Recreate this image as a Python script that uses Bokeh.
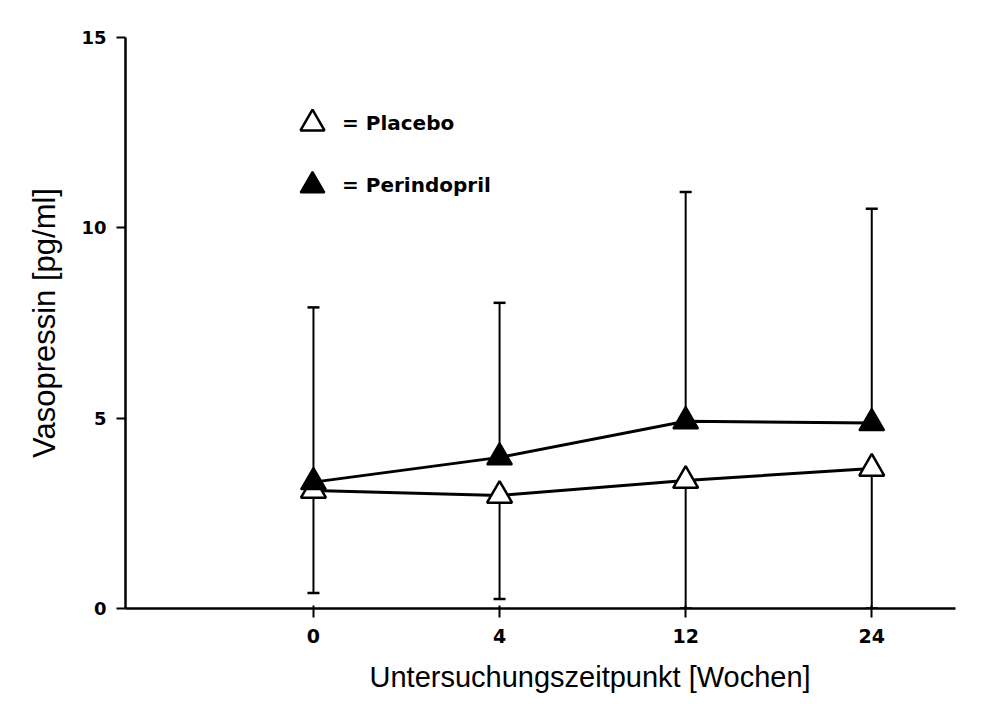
from bokeh.plotting import figure
from bokeh.models import (ColumnDataSource, Whisker, TeeHead, Legend, LegendItem,
                          Title, FixedTicker)
from bokeh.embed import file_html
from bokeh.resources import INLINE

# ---- data ----
weeks = ["0", "4", "12", "24"]
placebo = [3.10, 2.97, 3.36, 3.68]
placebo_lower = [0.41, 0.25, 0.0, 0.0]
perindopril = [3.32, 3.97, 4.92, 4.87]
perindopril_upper = [7.91, 8.03, 10.94, 10.50]
y_ticks = [0, 5, 10, 15]

pos = list(range(len(weeks)))

src = ColumnDataSource(dict(x=pos, placebo=placebo, placebo_lower=placebo_lower,
                            perindopril=perindopril, perindopril_upper=perindopril_upper))

p = figure(width=984, height=716, output_backend="svg", toolbar_location=None,
           x_range=(-1.01, 3.45), y_range=(0, 15),
           min_border_left=125, min_border_right=29, min_border_top=37,
           min_border_bottom=108)
p.xgrid.visible = False
p.ygrid.visible = False
p.outline_line_color = None
p.background_fill_color = "white"
p.border_fill_color = "white"

# error bars
w_up = Whisker(base="x", lower="perindopril", upper="perindopril_upper", source=src,
               dimension="height", line_color="black", line_width=2,
               upper_head=TeeHead(size=12, line_color="black", line_width=2.5),
               lower_head=None, level="underlay")
w_lo = Whisker(base="x", lower="placebo_lower", upper="placebo", source=src,
               dimension="height", line_color="black", line_width=2,
               lower_head=TeeHead(size=12, line_color="black", line_width=2.5),
               upper_head=None, level="underlay")
p.add_layout(w_up)
p.add_layout(w_lo)

# lines
p.line("x", "placebo", source=src, line_color="black", line_width=3)
p.line("x", "perindopril", source=src, line_color="black", line_width=3)

# markers
r_pl = p.scatter("x", "placebo", source=src, marker="triangle", size=25,
                 fill_color="white", line_color="black", line_width=2.5)
r_pe = p.scatter("x", "perindopril", source=src, marker="triangle", size=25,
                 fill_color="black", line_color="black", line_width=2)

legend = Legend(items=[LegendItem(label="= Placebo", renderers=[r_pl]),
                       LegendItem(label="= Perindopril", renderers=[r_pe])],
                location=(157, 393), glyph_width=60, glyph_height=60, spacing=2,
                padding=0, margin=0, border_line_alpha=0, background_fill_alpha=0,
                label_text_font="DejaVu Sans", label_text_font_size="20px",
                label_text_font_style="bold", label_text_color="black",
                label_standoff=0)
p.add_layout(legend)

# y axis
p.yaxis.ticker = FixedTicker(ticks=y_ticks)
p.yaxis.minor_tick_line_color = None
p.yaxis.major_tick_in = 0
p.yaxis.major_tick_out = 9
p.yaxis.major_tick_line_width = 2
p.yaxis.major_tick_line_color = "black"
p.yaxis.axis_line_width = 2.5
p.yaxis.axis_line_color = "black"
p.yaxis.major_label_text_font = "DejaVu Sans"
p.yaxis.major_label_text_font_size = "18px"
p.yaxis.major_label_text_font_style = "bold"
p.yaxis.major_label_text_color = "black"
p.yaxis.major_label_standoff = 10
p.yaxis.axis_label = "Vasopressin [pg/ml]"
p.yaxis.axis_label_text_font = "Liberation Sans"
p.yaxis.axis_label_text_font_size = "31px"
p.yaxis.axis_label_text_font_style = "normal"
p.yaxis.axis_label_text_color = "black"
p.yaxis.axis_label_standoff = 16

# x axis
p.xaxis.ticker = FixedTicker(ticks=pos)
p.xaxis.major_label_overrides = {i: w for i, w in zip(pos, weeks)}
p.xaxis.minor_tick_line_color = None
p.xaxis.major_tick_in = 3
p.xaxis.major_tick_out = 9
p.xaxis.major_tick_line_width = 2
p.xaxis.major_tick_line_color = "black"
p.xaxis.axis_line_width = 2.5
p.xaxis.axis_line_color = "black"
p.xaxis.major_label_text_font = "DejaVu Sans"
p.xaxis.major_label_text_font_size = "19px"
p.xaxis.major_label_text_font_style = "bold"
p.xaxis.major_label_text_color = "black"
p.xaxis.major_label_standoff = 11

xtitle = Title(text="Untersuchungszeitpunkt [Wochen]", align="left", offset=244,
               text_font="Liberation Sans", text_font_size="29px",
               text_font_style="normal", text_color="black", standoff=27)
p.add_layout(xtitle, "below")

open("out.html", "w").write(file_html(p, INLINE))
